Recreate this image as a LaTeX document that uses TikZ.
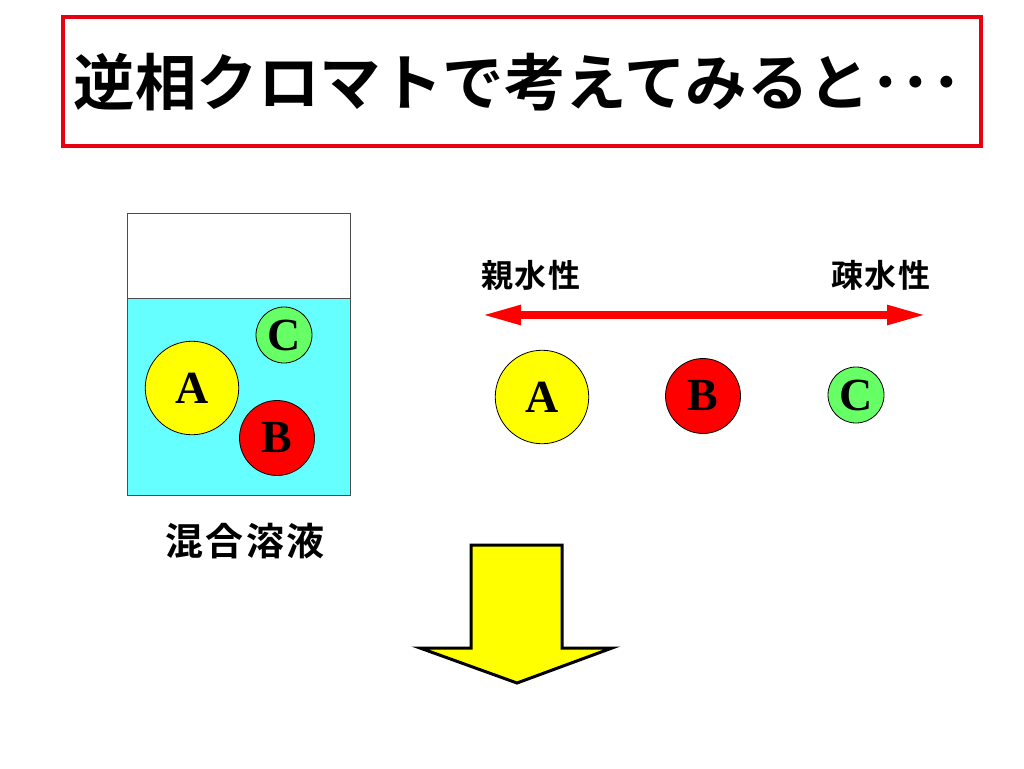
\documentclass[tikz,border=0pt]{standalone}
\usepackage{fontspec}
\setmainfont{Liberation Serif}
\newfontfamily\jpfont{Noto Sans CJK JP Bold}
\newfontfamily\jpwide[LetterSpace=6]{Noto Sans CJK JP Bold}
\usetikzlibrary{arrows.meta}
\definecolor{water}{HTML}{66FFFF}
\definecolor{ballA}{HTML}{FFFF00}
\definecolor{ballB}{HTML}{FF0000}
\definecolor{ballC}{HTML}{66FF66}
\definecolor{titlered}{HTML}{E60012}
\tikzset{
  ball/.style={circle, draw=black, line width=0.8pt, inner sep=0pt,
    font=\fontsize{46}{46}\selectfont\bfseries},
  jplabel/.style={font=\jpwide\fontsize{32}{32}\selectfont, inner sep=0pt},
}
\begin{document}
\begin{tikzpicture}[x=1pt,y=-1pt]
\useasboundingbox[fill=white] (0,0) rectangle (1024,768);
% title
\draw[titlered, line width=3.5pt] (63,17) rectangle (981,146);
\node[font=\jpfont\fontsize{61.5}{62}\selectfont, inner sep=0pt] (title) at (518,82) {逆相クロマトで考えてみると･･･};
% beaker
\fill[water] (127,298) rectangle (350,495);
\draw[black!70, line width=0.8pt] (127,213) rectangle (350,495);
\draw[black!70, line width=0.8pt] (127,298) -- (350,298);
\node[ball, fill=ballA, minimum size=93.5pt] (a1) at (192,388) {A};
\node[ball, fill=ballC, minimum size=56pt] (c1) at (284,335) {C};
\node[ball, fill=ballB, minimum size=75pt] (b1) at (277,438) {B};
\node[jplabel, font=\jpwide\fontsize{38}{38}\selectfont] (mix) at (245,541) {混合溶液};
% scale
\node[jplabel] (hydrophilic) at (531,275) {親水性};
\node[jplabel] (hydrophobic) at (881,275) {疎水性};
\coordinate (left) at (481,315);
\coordinate (right) at (927,315);
\draw[red, line width=8pt, {Triangle[length=40pt,width=18pt]}-{Triangle[length=40pt,width=18pt]}] (left) -- (right);
\node[ball, fill=ballA, minimum size=93.5pt] (a2) at (542,397) {A};
\node[ball, fill=ballB, minimum size=75pt] (b2) at (703,396) {B};
\node[ball, fill=ballC, minimum size=56pt] (c2) at (856,395) {C};
% big down arrow
\draw[fill=ballA, line width=3pt, line join=miter] (471,545) -- (562,545) -- (562,648) -- (612,648) -- (517,683) -- (420,648) -- (471,648) -- cycle;
\end{tikzpicture}
\end{document}
